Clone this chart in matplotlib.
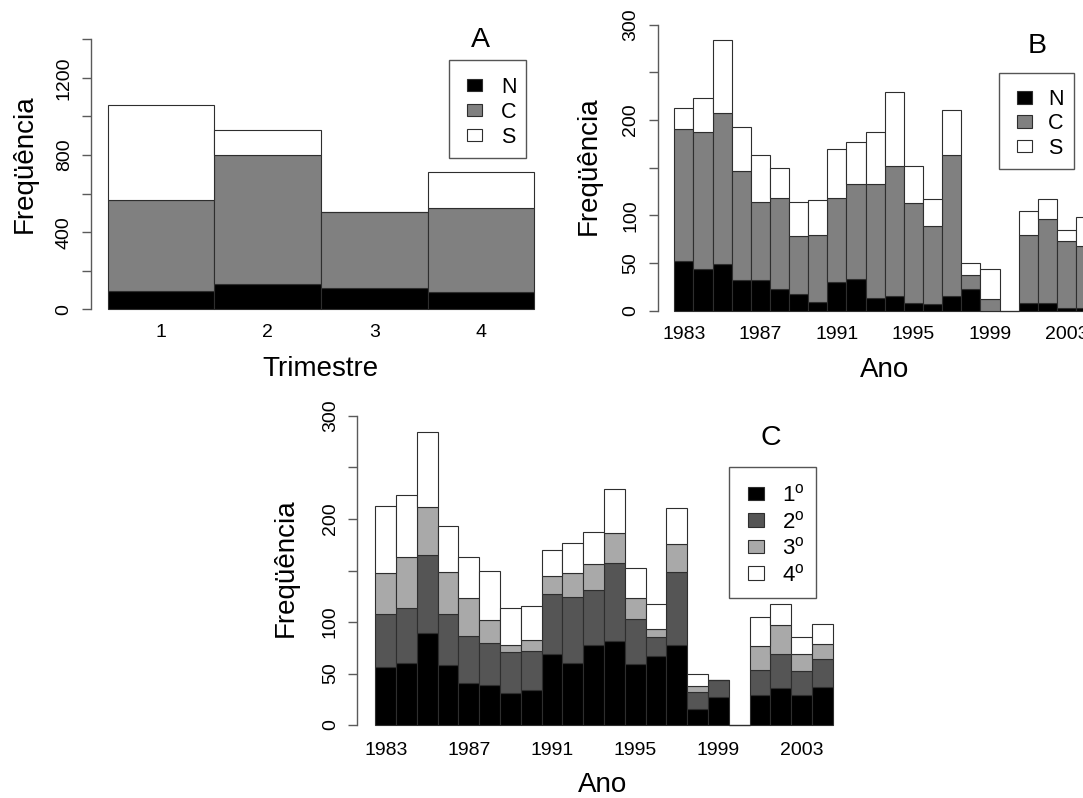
import numpy as np
import matplotlib
matplotlib.use('Agg')
import matplotlib.pyplot as plt
from matplotlib.patches import Rectangle

plt.rcParams['font.family'] = ['Liberation Sans', 'DejaVu Sans']
plt.rcParams['mathtext.fontset'] = 'custom'
plt.rcParams['mathtext.rm'] = 'Liberation Sans'
plt.rcParams['mathtext.it'] = 'Liberation Sans:italic'

# ---------------- data ----------------
trimestres = ['1', '2', '3', '4']
a_norte = [95, 132, 112, 91]
a_centro = [471, 667, 390, 432]
a_sul = [491, 133, 0, 189]

anos = list(range(1983, 2005))
b_norte = [52, 44, 49, 32, 32, 23, 17, 9, 30, 33, 13, 15, 8, 7, 15, 23, 0, 0, 8, 8, 3, 3]
b_centro = [139, 143, 158, 115, 82, 95, 61, 70, 88, 100, 120, 137, 105, 82, 148, 14, 12, 0, 71, 88, 70, 65]
b_sul = [22, 36, 77, 46, 49, 32, 36, 37, 52, 44, 54, 77, 39, 28, 48, 13, 32, 0, 26, 21, 12, 30]

c_tri1 = [56, 60, 89, 58, 41, 39, 31, 34, 69, 60, 78, 82, 59, 67, 78, 16, 27, 0, 29, 36, 29, 37]
c_tri2 = [52, 54, 76, 50, 45, 41, 40, 38, 58, 64, 53, 75, 44, 18, 71, 16, 17, 0, 24, 33, 23, 27]
c_tri3 = [40, 49, 47, 41, 37, 22, 7, 11, 18, 24, 25, 29, 20, 8, 27, 6, 0, 0, 24, 28, 17, 15]
c_tri4 = [65, 60, 72, 44, 40, 48, 36, 33, 25, 29, 31, 43, 29, 24, 35, 12, 0, 0, 28, 20, 16, 19]

ano_ticklabels = [1983, 1987, 1991, 1995, 1999, 2003]
regiao_labels = ['N', 'C', 'S']
trimestre_labels = [r'1$^{\mathrm{o}}$', r'2$^{\mathrm{o}}$', r'3$^{\mathrm{o}}$', r'4$^{\mathrm{o}}$']

a_yticks = [0, 200, 400, 600, 800, 1000, 1200, 1400]
a_ylabels = ['0', '', '400', '', '800', '', '1200', '']
bc_yticks = [0, 50, 100, 150, 200, 250, 300]
bc_ylabels = ['0', '50', '100', '', '200', '', '300']

# ---------------- style ----------------
W, H = 1083, 798
fig = plt.figure(figsize=(W / 100, H / 100), dpi=100)
EDGE = '#2e2e2e'
AXC = '#5a5a5a'
col_reg = ['black', '#808080', 'white']
col_tri = ['black', '#555555', '#a9a9a9', 'white']
TICK_FS = 14
LAB_FS = 20
TITLE_FS = 20.5


def px_axes(x0, x1, ytop, ybot):
    return fig.add_axes([x0 / W, 1 - ybot / H, (x1 - x0) / W, (ybot - ytop) / H])


def stacked(ax, series, colors):
    n = len(series[0])
    x = np.arange(n)
    bottom = np.zeros(n)
    for vals, col in zip(series, colors):
        vals = np.asarray(vals, dtype=float)
        ax.bar(x, vals, width=1.0, bottom=bottom, align='edge', color=col,
               edgecolor=EDGE, linewidth=0.8, zorder=2)
        bottom += vals


def style(ax, yticks, ylabels, xpos, xlabels, xpad):
    for s in ['top', 'right', 'bottom']:
        ax.spines[s].set_visible(False)
    ax.spines['left'].set_bounds(yticks[0], yticks[-1])
    ax.spines['left'].set_color(AXC)
    ax.spines['left'].set_linewidth(1.0)
    ax.set_yticks(yticks)
    ax.set_yticklabels(ylabels, rotation=90, va='center', ha='right')
    ax.tick_params(axis='y', length=6.5, width=1.0, color=AXC, labelsize=TICK_FS, pad=6.5)
    ax.set_xticks(xpos)
    ax.set_xticklabels(xlabels)
    ax.tick_params(axis='x', length=0, labelsize=TICK_FS, pad=xpad)
    ax.set_facecolor('none')


def ftext(x, y, s, size, ha='center', va='center', rot=0):
    fig.text(x / W, 1 - y / H, s, fontsize=size, ha=ha, va=va, rotation=rot)


def legend_box(x0, y0, x1, y1, ys, sw_x0, sw_x1, sw_h, tx, labels, colors, size):
    fig.add_artist(Rectangle((x0 / W, 1 - y1 / H), (x1 - x0) / W, (y1 - y0) / H,
                             transform=fig.transFigure, facecolor='white',
                             edgecolor='#555555', linewidth=1.0, zorder=5))
    cap = 0.716 * size * 100 / 72
    for y, lab, col in zip(ys, labels, colors):
        fig.add_artist(Rectangle((sw_x0 / W, 1 - (y + sw_h / 2) / H), (sw_x1 - sw_x0) / W, sw_h / H,
                                 transform=fig.transFigure, facecolor=col,
                                 edgecolor=EDGE, linewidth=0.8, zorder=6))
        t = fig.text(tx / W, 1 - (y + cap / 2) / H, lab, fontsize=size, ha='left', va='baseline')
        t.set_zorder(7)


# ---------------- Panel A ----------------
axA = px_axes(90.7, 551.5, 28.5, 320.1)
stacked(axA, [a_norte, a_centro, a_sul], col_reg)
axA.set_xlim(-0.16, 4.16)
axA.set_ylim(-56, 1456)
style(axA, a_yticks, a_ylabels, np.arange(4) + 0.5, trimestres, 3.0)

# ---------------- Panel B ----------------
axB = px_axes(657.5, 1112.0, 13.3, 322.1)
stacked(axB, [b_norte, b_centro, b_sul], col_reg)
axB.set_xlim(-0.88, 22.88)
axB.set_ylim(-12, 312)
xposB = [anos.index(a) + 0.5 for a in ano_ticklabels]
style(axB, bc_yticks, bc_ylabels, xposB, [str(a) for a in ano_ticklabels], 2.9)

# ---------------- Panel C ----------------
axC = px_axes(357.0, 851.0, 403.6, 737.4)
stacked(axC, [c_tri1, c_tri2, c_tri3, c_tri4], col_tri)
axC.set_xlim(-0.88, 22.88)
axC.set_ylim(-12, 312)
style(axC, bc_yticks, bc_ylabels, xposB, [str(a) for a in ano_ticklabels], 3.3)

# ---------------- labels ----------------
ftext(25, 164, 'Freqüência', LAB_FS, rot=90)
ftext(589, 166, 'Freqüência', LAB_FS, rot=90)
ftext(286, 568, 'Freqüência', LAB_FS, rot=90)
ftext(320, 376, 'Trimestre', LAB_FS, va='baseline')
ftext(884.7, 377, 'Ano', LAB_FS, va='baseline')
ftext(603, 792, 'Ano', LAB_FS, va='baseline')

ftext(480, 40, 'A', TITLE_FS)
ftext(1037, 46, 'B', TITLE_FS)
ftext(771, 438, 'C', TITLE_FS)

legend_box(449, 60.3, 526, 158.3, [85, 110, 135], 467, 482, 12.5, 501,
           regiao_labels, col_reg, 15.5)
legend_box(999.3, 72.7, 1074.3, 169.3, [97.3, 121.5, 146], 1016.7, 1031.7, 12.5, 1048.3,
           regiao_labels, col_reg, 15.5)
legend_box(729.3, 466.7, 815.7, 597.9, [493.3, 520, 546.5, 573], 748.3, 764.3, 13.3, 781.7,
           trimestre_labels, col_tri, 16)

fig.savefig('out.png', dpi=100)
